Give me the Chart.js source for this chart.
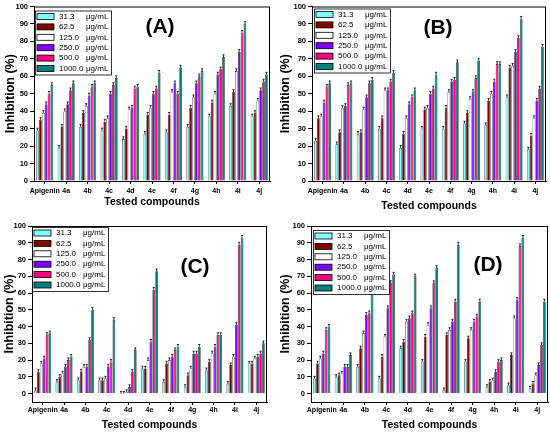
<!DOCTYPE html>
<html>
<head>
<meta charset="utf-8">
<script src="https://cdn.jsdelivr.net/npm/chart.js@4.4.1/dist/chart.umd.min.js"></script>
<style>
  body { margin: 0; background: #fff; width: 550px; height: 434px; position: relative; overflow: hidden; }
  .panel { position: absolute; width: 275px; height: 217px; }
</style>
</head>
<body>
<div class="panel" style="left:0;top:0"><canvas id="chartA" width="275" height="217"></canvas></div>
<div class="panel" style="left:275px;top:0"><canvas id="chartB" width="275" height="217"></canvas></div>
<div class="panel" style="left:0;top:217px"><canvas id="chartC" width="275" height="217"></canvas></div>
<div class="panel" style="left:275px;top:217px"><canvas id="chartD" width="275" height="217"></canvas></div>
<script>
// categories and legend entries
const compounds = ['Apigenin', '4a', '4b', '4c', '4d', '4e', '4f', '4g', '4h', '4i', '4j'];
const concLabels = ['31.3', '62.5', '125.0', '250.0', '500.0', '1000.0'];
const unitLabel = 'μg/mL';
const yTicks = [0, 10, 20, 30, 40, 50, 60, 70, 80, 90, 100];
const panelLabels = ['(A)', '(B)', '(C)', '(D)'];
const xTitle = 'Tested compounds';
const yTitle = 'Inhibition (%)';
const errSize = 1.3; // error bar length (% units)

// panel A, one row per concentration
const inhibA = [
  [29, 19, 31, 29, 24, 27, 28, 31, 37, 43, 37],
  [35, 31, 39, 34, 30, 38, 38, 42, 45, 51, 39],
  [39, 40, 43, 36, 41, 42, 51, 48, 50, 63, 46],
  [44, 44, 49, 50, 42, 50, 56, 56, 61, 74, 52],
  [50, 52, 54, 55, 53, 53, 50, 60, 64, 85, 57],
  [55, 56, 56, 59, 54, 62, 65, 63, 71, 90, 61]
];
// panel B
const inhibB = [
  [23, 21, 27, 30, 19, 30, 30, 33, 32, 48, 18],
  [36, 28, 28, 36, 27, 41, 42, 39, 46, 65, 26],
  [37, 42, 41, 52, 36, 42, 51, 47, 50, 66, 36],
  [45, 43, 48, 52, 44, 50, 57, 51, 57, 74, 46],
  [54, 55, 56, 57, 48, 53, 58, 59, 67, 82, 53],
  [56, 56, 58, 62, 52, 61, 68, 69, 67, 93, 77]
];
// panel C
const inhibC = [
  [2, 7, 8, 8, 0, 15, 7, 4, 14, 6, 18],
  [13, 10, 13, 8, 0, 15, 18, 11, 19, 17, 18],
  [18, 12, 16, 9, 1, 20, 20, 15, 24, 22, 21],
  [21, 16, 16, 16, 4, 31, 22, 24, 28, 41, 22],
  [35, 20, 32, 19, 13, 62, 26, 24, 35, 89, 24],
  [36, 22, 50, 44, 26, 73, 28, 28, 35, 93, 30]
];
// panel D
const inhibD = [
  [9, 10, 16, 9, 27, 19, 2, 19, 4, 5, 3],
  [18, 11, 27, 22, 31, 34, 35, 33, 7, 23, 6],
  [21, 12, 36, 34, 43, 41, 38, 38, 8, 45, 11],
  [24, 16, 47, 51, 45, 51, 43, 43, 13, 56, 17],
  [38, 16, 48, 66, 48, 66, 55, 46, 19, 88, 29],
  [40, 23, 62, 71, 70, 75, 89, 55, 20, 93, 55]
];

const barColors = ['#80ffff', '#800000', '#ffffff', '#8000ff', '#ff0080', '#008080'];
const FONT = '"Liberation Sans", Arial, sans-serif';

// box around the plot
const framePlugin = {
  id: 'frame',
  afterDraw(chart) {
    const { ctx, chartArea: a } = chart;
    ctx.save();
    ctx.strokeStyle = '#000';
    ctx.lineWidth = 1;
    ctx.strokeRect(a.left + 0.5, a.top + 0.5, a.right - a.left - 1, a.bottom - a.top);
    ctx.restore();
  }
};

// little error caps on top of each bar
const errorPlugin = {
  id: 'errs',
  afterDatasetsDraw(chart) {
    const { ctx } = chart;
    const yScale = chart.scales.y;
    ctx.save();
    ctx.strokeStyle = '#000';
    ctx.lineWidth = 0.8;
    chart.data.datasets.forEach((ds, i) => {
      chart.getDatasetMeta(i).data.forEach((bar, j) => {
        const top = yScale.getPixelForValue(ds.data[j] + errSize);
        const w = bar.width * 0.4;
        ctx.beginPath();
        ctx.moveTo(bar.x, bar.y);
        ctx.lineTo(bar.x, top);
        ctx.moveTo(bar.x - w, top);
        ctx.lineTo(bar.x + w, top);
        ctx.stroke();
      });
    });
    ctx.restore();
  }
};

// legend box inside the plot + panel letter
const legendPlugin = {
  id: 'innerLegend',
  afterDatasetsDraw(chart, args, opts) {
    const { ctx, chartArea: a } = chart;
    const x0 = a.left + opts.dx, y0 = a.top + opts.dy;
    const w = 76, h = 64, row = 10.4;
    ctx.save();
    ctx.fillStyle = '#fff';
    ctx.fillRect(x0, y0, w, h);
    ctx.strokeStyle = '#000';
    ctx.lineWidth = 0.8;
    ctx.strokeRect(x0 + 0.5, y0 + 0.5, w, h);
    ctx.font = '8px ' + FONT;
    ctx.textBaseline = 'middle';
    chart.data.datasets.forEach((ds, i) => {
      const cy = y0 + 6 + row * i;
      ctx.fillStyle = ds.backgroundColor;
      ctx.fillRect(x0 + 2, cy - 3, 17, 6);
      ctx.strokeStyle = '#000';
      ctx.strokeRect(x0 + 2, cy - 3, 17, 6);
      ctx.fillStyle = '#000';
      ctx.fillText(ds.label, x0 + 24, cy);
      ctx.fillText(unitLabel, x0 + 51, cy);
    });
    ctx.font = 'bold 21px ' + FONT;
    ctx.textAlign = 'center';
    ctx.fillText(opts.letter, opts.tx, opts.ty);
    ctx.restore();
  }
};

function makePanel(canvasId, series, letter, cfg) {
  const datasets = series.map((vals, i) => ({
    label: concLabels[i],
    data: vals,
    backgroundColor: barColors[i],
    borderColor: '#111',
    borderWidth: 0.6,
    categoryPercentage: 0.8,
    barPercentage: 0.95
  }));

  const config = {
    type: 'bar',
    data: { labels: compounds, datasets: datasets },
    options: {
      responsive: false,
      animation: false,
      layout: { padding: { top: cfg.top, right: cfg.right, left: 0, bottom: 0 } },
      plugins: {
        legend: { display: false },
        tooltip: { enabled: false },
        innerLegend: { dx: cfg.legDx, dy: cfg.legDy, letter: letter, tx: cfg.tx, ty: cfg.ty }
      },
      scales: {
        x: {
          offset: true,
          grid: { display: true, drawOnChartArea: false, offset: false, tickLength: 3, color: '#000' },
          border: { color: '#000', width: 1 },
          ticks: { color: '#000', padding: cfg.xTickPad, maxRotation: 0, autoSkip: false,
                   font: { family: FONT, size: 7, weight: 'bold' } },
          title: { display: true, text: xTitle, color: '#000',
                   font: { family: FONT, size: 10.5, weight: 'bold' },
                   padding: { top: 0, bottom: cfg.xTitlePad } },
          afterFit: s => { s.height = cfg.xAxisH; }
        },
        y: {
          min: cfg.yMin,
          max: 100,
          afterBuildTicks: s => { s.ticks = yTicks.map(v => ({ value: v })); },
          grid: { display: true, drawOnChartArea: false, tickLength: 4, color: '#000' },
          border: { color: '#000', width: 1 },
          ticks: { color: '#000', padding: 2, font: { family: FONT, size: 7.5, weight: 'bold' } },
          title: { display: true, text: yTitle, color: '#000',
                   font: { family: FONT, size: 12.5, weight: 'bold' },
                   padding: { top: cfg.yTitlePad, bottom: 0 } },
          afterFit: s => { s.width = cfg.yAxisW; }
        }
      }
    },
    plugins: [framePlugin, errorPlugin, legendPlugin]
  };

  new Chart(document.getElementById(canvasId), config);
}

makePanel('chartA', inhibA, panelLabels[0], {
  top: 5, right: 5, yAxisW: 34, xAxisH: 36, yMin: 0, xTickPad: 3, xTitlePad: 8.5, yTitlePad: 3,
  legDx: 1, legDy: 4, tx: 160, ty: 27
});
makePanel('chartB', inhibB, panelLabels[1], {
  top: 5, right: 4, yAxisW: 37, xAxisH: 36, yMin: 0, xTickPad: 3, xTitlePad: 4.5, yTitlePad: 3,
  legDx: 2, legDy: 2, tx: 163, ty: 28
});
makePanel('chartC', inhibC, panelLabels[2], {
  top: 9, right: 8, yAxisW: 32, xAxisH: 32, yMin: -5, xTickPad: 1, xTitlePad: 2.5, yTitlePad: 2,
  legDx: 0, legDy: 1, tx: 195, ty: 50
});
makePanel('chartD', inhibD, panelLabels[3], {
  top: 9, right: 2, yAxisW: 36, xAxisH: 32, yMin: -5, xTickPad: 1, xTitlePad: 2.5, yTitlePad: 3,
  legDx: 2, legDy: 4, tx: 213, ty: 48
});
</script>
</body>
</html>
